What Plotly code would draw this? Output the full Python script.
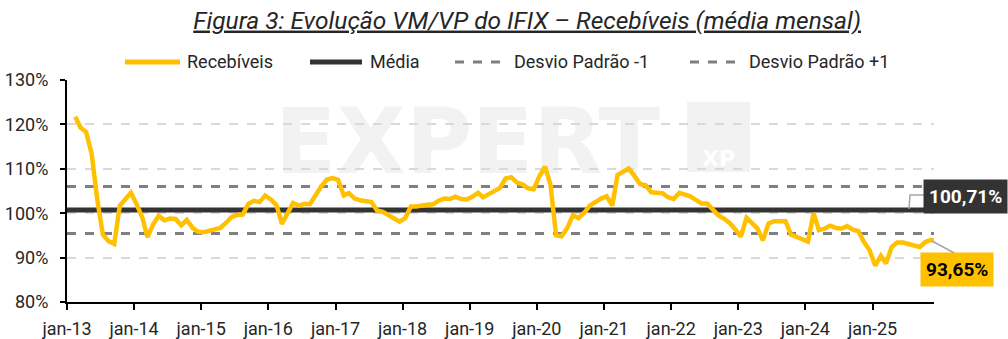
import pandas as pd
import plotly.graph_objects as go

# ---------------- data ----------------
start_month = "2013-01-15"
recebiveis = [
    121.7, 119.3, 118.3, 113.4, 103.0, 95.2, 93.7, 93.1, 101.7, 103.2, 104.6, 102.0,   # 2013
    99.0, 94.6, 97.5, 99.4, 98.4, 98.8, 98.7, 97.3, 98.5, 96.7, 95.8, 95.7,            # 2014
    96.1, 96.4, 96.7, 97.8, 99.1, 99.6, 99.7, 102.1, 102.8, 102.5, 104.0, 103.1,       # 2015
    101.8, 97.6, 99.8, 102.3, 101.7, 102.1, 102.1, 104.2, 106.0, 107.6, 107.9, 107.5,  # 2016
    104.0, 104.5, 103.3, 102.9, 102.7, 102.5, 100.6, 100.3, 99.6, 98.7, 98.1, 98.9,    # 2017
    101.5, 101.5, 101.8, 101.9, 102.0, 102.8, 103.3, 103.2, 103.7, 103.2, 103.1, 103.7, # 2018
    104.6, 103.6, 104.3, 105.0, 105.7, 107.8, 108.1, 106.9, 106.5, 105.6, 105.4, 108.3, # 2019
    110.5, 106.5, 95.0, 94.8, 96.7, 99.5, 98.9, 100.1, 101.7, 102.5, 103.3, 103.8,     # 2020
    101.7, 108.6, 109.3, 110.1, 108.4, 106.6, 106.3, 104.7, 104.6, 104.5, 103.6, 103.2, # 2021
    104.6, 104.2, 103.8, 103.0, 102.2, 102.2, 100.7, 99.5, 98.8, 97.8, 96.4, 94.7,     # 2022
    99.0, 97.7, 96.6, 93.9, 97.7, 98.2, 98.3, 98.2, 95.2, 94.7, 94.3, 93.6,            # 2023
    100.0, 96.2, 96.5, 97.2, 96.7, 96.5, 97.1, 96.3, 96.0, 93.5, 91.7, 88.2,           # 2024
    90.4, 88.7, 92.4, 93.4, 93.4, 93.1, 92.8, 92.4, 93.5, 94.0, 93.65,                 # 2025
]
media = 100.71
desvio = 5.3
ultimo_label = "93,65%"
media_label = "100,71%"
series_names = ["Recebíveis", "Média", "Desvio Padrão -1", "Desvio Padrão +1"]
tick_years = list(range(2013, 2026))
tick_labels = [f"jan-{str(y)[2:]}" for y in tick_years]
y_ticks = [80, 90, 100, 110, 120, 130]
y_tick_labels = [f"{v}%" for v in y_ticks]

dates = pd.date_range(start=start_month, periods=len(recebiveis), freq="MS") + pd.Timedelta(days=14)
x_range = ["2013-01-01", "2025-12-01"]
tick_vals = [f"{y}-01-01" for y in tick_years]

GOLD = "#FFC000"
DARK = "#333333"
GRAY = "#7F7F7F"
TXT = "#262626"
FONT = "Roboto"

# plot-area geometry (px) used to place the legend / labels outside the axes
W, H = 1008, 339
L, R, T, B = 67, 74, 80, 37
PW, PH = W - L - R, H - T - B


def px_x(px):
    return (px - L) / PW


def px_y(py):
    return (H - B - py) / PH


fig = go.Figure()
flat_x = [x_range[0], x_range[1]]
fig.add_trace(go.Scatter(x=flat_x, y=[media - desvio] * 2, mode="lines", name=series_names[2],
                         line=dict(color=GRAY, width=3, dash="dash"), showlegend=False))
fig.add_trace(go.Scatter(x=flat_x, y=[media + desvio] * 2, mode="lines", name=series_names[3],
                         line=dict(color=GRAY, width=3, dash="dash"), showlegend=False))
fig.add_trace(go.Scatter(x=flat_x, y=[media, media], mode="lines", name=series_names[1],
                         line=dict(color=DARK, width=5), showlegend=False))
fig.add_trace(go.Scatter(x=dates, y=recebiveis, mode="lines", name=series_names[0],
                         line=dict(color=GOLD, width=4.5), showlegend=False))

# watermark (below traces)
fig.add_shape(type="rect", xref="paper", yref="paper", x0=px_x(270), x1=px_x(665), y0=px_y(172), y1=px_y(98),
              line=dict(width=0), fillcolor="rgba(0,0,0,0)", layer="below",
              label=dict(text="<b>EXPERT</b>", font=dict(family="DejaVu Sans", size=90, color="#F2F2F2")))
fig.add_shape(type="rect", xref="paper", yref="paper", x0=px_x(687), x1=px_x(750), y0=px_y(172), y1=px_y(102),
              line=dict(width=0), fillcolor="#F2F2F2", layer="below",
              label=dict(text="<b>XP</b>", font=dict(family="DejaVu Sans", size=22, color="#FFFFFF"),
                         textposition="bottom center"))

# manual legend
legend_y = px_y(62)
legend_items = [
    (series_names[0], 125, 180, 185, dict(color=GOLD, width=5)),
    (series_names[1], 310, 362, 368, dict(color=DARK, width=5)),
    (series_names[2], 455, 503, 512, dict(color=GRAY, width=3, dash="dash")),
    (series_names[3], 690, 738, 747, dict(color=GRAY, width=3, dash="dash")),
]
for name, x0, x1, xt, ln in legend_items:
    fig.add_shape(type="line", xref="paper", yref="paper", x0=px_x(x0), x1=px_x(x1),
                  y0=legend_y, y1=legend_y, line=ln)
    fig.add_annotation(xref="paper", yref="paper", x=px_x(xt), y=legend_y, text=name,
                       showarrow=False, xanchor="left", yanchor="middle",
                       font=dict(family=FONT, size=18, color=TXT))

# leader lines
fig.add_shape(type="path", xref="paper", yref="paper",
              path=f"M {px_x(909)},{px_y(209)} L {px_x(910)},{px_y(195)} L {px_x(925)},{px_y(195)}",
              line=dict(color="#A6A6A6", width=1.5))
fig.add_shape(type="line", xref="paper", yref="paper", x0=px_x(932), y0=px_y(241),
              x1=px_x(958), y1=px_y(255), line=dict(color="#A6A6A6", width=1.5))

fig.add_annotation(xref="paper", yref="paper", x=px_x(965), y=px_y(196), text=f"<b>{media_label}</b>",
                   showarrow=False, bgcolor=DARK, font=dict(family=FONT, size=19, color="white"),
                   borderpad=5, xanchor="center", yanchor="middle")
fig.add_annotation(xref="paper", yref="paper", x=px_x(957), y=px_y(269), text=f"<b>{ultimo_label}</b>",
                   showarrow=False, bgcolor=GOLD, font=dict(family=FONT, size=19, color="black"),
                   borderpad=5, xanchor="center", yanchor="middle")

fig.update_layout(
    width=W, height=H,
    margin=dict(l=L, r=R, t=T, b=B, autoexpand=False),
    paper_bgcolor="white", plot_bgcolor="white",
    font=dict(family=FONT, size=18, color=TXT),
    title=dict(text="<i><u>Figura 3: Evolução VM/VP do IFIX – Recebíveis (média mensal)</u></i>",
               x=0.523, xanchor="center", y=1 - 20 / H, yanchor="middle",
               font=dict(family=FONT, size=24.5, color=TXT)),
    showlegend=False,
)
fig.update_xaxes(range=x_range, tickvals=tick_vals, ticktext=tick_labels, showgrid=False,
                 showline=True, linecolor="black", linewidth=2, ticks="outside", ticklen=6,
                 tickcolor="black", tickwidth=2, zeroline=False, ticklabelstandoff=3,
                 tickfont=dict(family=FONT, size=18, color=TXT))
fig.update_yaxes(range=[80, 130], tickvals=y_ticks, ticktext=y_tick_labels, showgrid=True,
                 gridcolor="#D9D9D9", griddash="dash", gridwidth=1.5,
                 showline=True, linecolor="black", linewidth=2, ticks="outside", ticklen=5,
                 tickcolor="black", tickwidth=2, zeroline=False, ticklabelstandoff=8,
                 tickfont=dict(family=FONT, size=18, color=TXT))

fig.write_html("out.html")
